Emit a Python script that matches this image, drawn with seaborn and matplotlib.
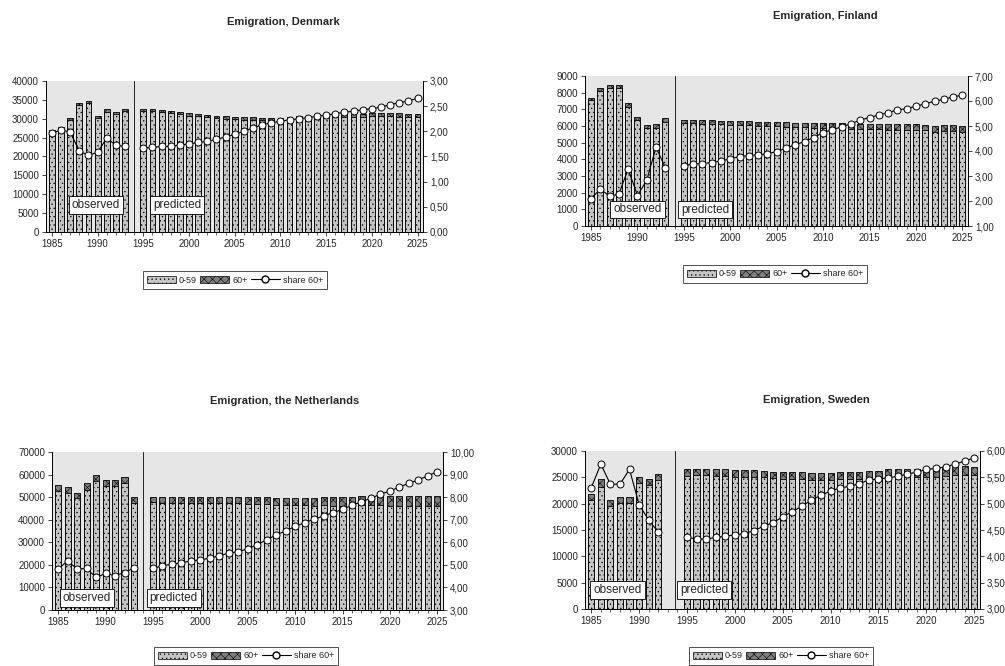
import numpy as np
import pandas as pd
import matplotlib
matplotlib.use("Agg")
import matplotlib.pyplot as plt
import matplotlib.ticker as mticker
from matplotlib.patches import Patch
from matplotlib.lines import Line2D
import seaborn as sns

sns.set_style("white")
plt.rcParams['font.family'] = ['Liberation Sans', 'DejaVu Sans']
plt.rcParams['hatch.linewidth'] = 0.4
plt.rcParams['hatch.color'] = '#333333'

# years
years_obs = list(range(1985, 1994))
years_obs_se = list(range(1985, 1993))
years_pred = list(range(1995, 2026))

# Denmark
dk_total_obs = [27000, 27900, 30300, 34300, 34800, 30800, 32500, 31900, 32500]
dk_share_obs = [1.97, 2.02, 1.99, 1.60, 1.53, 1.58, 1.87, 1.72, 1.70]
dk_total_pred = [32500, 32500, 32300, 32000, 31900, 31400, 31200, 31000, 30700, 30600,
                 30500, 30400, 30400, 30200, 30200, 30300, 30500, 30700, 30800, 31000,
                 31100, 31200, 31200, 31300, 31300, 31400, 31400, 31400, 31400, 31300, 31200]
dk_share_pred = [1.67, 1.68, 1.70, 1.70, 1.73, 1.75, 1.78, 1.80, 1.84, 1.89,
                 1.94, 2.00, 2.07, 2.13, 2.17, 2.20, 2.23, 2.25, 2.27, 2.30,
                 2.32, 2.35, 2.38, 2.40, 2.43, 2.45, 2.48, 2.53, 2.57, 2.60, 2.66]

# Finland
fi_total_obs = [7710, 8300, 8450, 8450, 7370, 6530, 6040, 6120, 6470]
fi_share_obs = [2.09, 2.48, 2.19, 2.28, 3.28, 2.22, 2.83, 4.15, 3.34]
fi_total_pred = [6370, 6390, 6350, 6340, 6330, 6300, 6290, 6280, 6250, 6240,
                 6230, 6220, 6210, 6190, 6180, 6170, 6160, 6160, 6150, 6150,
                 6140, 6130, 6120, 6110, 6100, 6100, 6090, 6020, 6060, 6050, 6000]
fi_share_pred = [3.42, 3.48, 3.50, 3.54, 3.60, 3.69, 3.78, 3.82, 3.85, 3.89,
                 3.98, 4.11, 4.25, 4.38, 4.54, 4.74, 4.85, 4.97, 5.09, 5.24,
                 5.34, 5.44, 5.54, 5.64, 5.70, 5.79, 5.89, 5.99, 6.07, 6.17, 6.23]

# the Netherlands
nl_total_obs = [55200, 54500, 51900, 56100, 59600, 57400, 57400, 58900, 50000]
nl_share_obs = [4.81, 5.18, 4.81, 4.84, 4.44, 4.62, 4.52, 4.66, 4.86]
nl_total_pred = [50100, 50100, 50100, 50100, 50100, 50000, 50000, 50100, 50200, 50100,
                 50000, 50000, 50000, 49700, 49700, 49700, 49800, 49700, 49900, 49900,
                 49900, 50100, 50300, 50300, 50400, 50300, 50300, 50400, 50500, 50500, 50600]
nl_share_pred = [4.84, 4.96, 5.03, 5.09, 5.18, 5.22, 5.30, 5.40, 5.52, 5.59,
                 5.70, 5.89, 6.11, 6.33, 6.50, 6.70, 6.87, 7.02, 7.17, 7.31,
                 7.46, 7.64, 7.80, 7.95, 8.13, 8.27, 8.45, 8.61, 8.77, 8.94, 9.13]

# Sweden
se_total_obs = [21900, 24600, 20700, 21300, 21300, 25100, 24700, 25700]
se_share_obs = [5.30, 5.75, 5.37, 5.37, 5.65, 4.98, 4.69, 4.46]
se_total_pred = [26500, 26500, 26500, 26500, 26500, 26300, 26300, 26300, 26200, 26000,
                 26000, 26000, 26000, 25900, 25900, 25900, 26000, 26000, 26000, 26200,
                 26200, 26500, 26500, 26500, 26500, 26500, 26600, 26800, 27000, 27100, 27000]
se_share_pred = [4.36, 4.33, 4.33, 4.36, 4.38, 4.41, 4.43, 4.49, 4.57, 4.64,
                 4.75, 4.85, 4.95, 5.07, 5.16, 5.24, 5.30, 5.33, 5.38, 5.45,
                 5.47, 5.49, 5.52, 5.56, 5.60, 5.65, 5.67, 5.70, 5.75, 5.81, 5.87]

LIGHT = '#c6c6c6'
DARK = '#7e7e7e'
BG = '#e6e6e6'


def panel(rect, title, title_xy, leg_xy, yo, yp, to, tp, so, sp,
          ymax, ystep, rlim, rstep, divider, obs_x, pred_x, box_y):
    df = pd.DataFrame({
        'year': yo + yp,
        'total': to + tp,
        'share': so + sp,
        'period': ['observed'] * len(yo) + ['predicted'] * len(yp),
    })
    # split the total into the two age groups using the share of 60+
    df['old'] = df['total'] * df['share'] / 100
    df['young'] = df['total'] - df['old']

    ax = fig.add_axes(rect)
    ax.set_facecolor(BG)
    sns.barplot(data=df, x='year', y='total', native_scale=True, width=0.64,
                color=DARK, edgecolor='black', linewidth=0.6, hatch='xxxx',
                errorbar=None, ax=ax)
    sns.barplot(data=df, x='year', y='young', native_scale=True, width=0.64,
                color=LIGHT, edgecolor='black', linewidth=0.6, hatch='....',
                errorbar=None, ax=ax)
    ax.set_ylim(0, ymax)
    ax.set_yticks(np.arange(0, ymax + 1, ystep))
    ax.set_xlim(1984.35, 2025.6)
    ax.xaxis.set_major_locator(mticker.MultipleLocator(5))
    ax.xaxis.set_minor_locator(mticker.MultipleLocator(1))
    ax.tick_params(axis='both', which='major', labelsize=7, length=3, width=0.6,
                   direction='out', left=True, bottom=True, pad=2)
    ax.tick_params(axis='x', which='minor', length=2, width=0.5, bottom=True)
    ax.set_xlabel('')
    ax.set_ylabel('')
    ax.axvline(divider, color='#222222', lw=0.7)
    for s in ['top', 'right']:
        ax.spines[s].set_visible(False)
    for s in ['left', 'bottom']:
        ax.spines[s].set_color('black')
        ax.spines[s].set_linewidth(0.7)

    ax2 = ax.twinx()
    sns.lineplot(data=df, x='year', y='share', units='period', estimator=None,
                 color='black', lw=0.8, marker='o', markersize=5,
                 markerfacecolor='white', markeredgecolor='black',
                 markeredgewidth=0.7, legend=False, ax=ax2)
    ax2.set_ylim(*rlim)
    ax2.set_yticks(np.arange(rlim[0], rlim[1] + 0.001, rstep))
    ax2.yaxis.set_major_formatter(
        mticker.FuncFormatter(lambda v, p: f"{v:.2f}".replace('.', ',')))
    ax2.tick_params(axis='y', labelsize=7, length=3, width=0.6, direction='out',
                    right=True, pad=2)
    ax2.set_xlim(1984.35, 2025.6)
    ax2.set_xlabel('')
    ax2.set_ylabel('')
    for s in ['top', 'left', 'bottom']:
        ax2.spines[s].set_visible(False)
    ax2.spines['right'].set_color('black')
    ax2.spines['right'].set_linewidth(0.7)

    box = dict(boxstyle='square,pad=0.25', facecolor='white', edgecolor='black', lw=0.6)
    ax.text(obs_x, box_y, 'observed', transform=ax.get_xaxis_transform(),
            ha='center', va='center', fontsize=8.5, bbox=box, zorder=5)
    ax.text(pred_x, box_y, 'predicted', transform=ax.get_xaxis_transform(),
            ha='center', va='center', fontsize=8.5, bbox=box, zorder=5)

    fig.text(title_xy[0], title_xy[1], title, ha='center', va='center',
             fontsize=8, fontweight='bold')

    handles = [
        Patch(facecolor=LIGHT, edgecolor='black', hatch='....', lw=0.5, label='0-59'),
        Patch(facecolor=DARK, edgecolor='black', hatch='xxxx', lw=0.5, label='60+'),
        Line2D([0], [0], color='black', lw=0.8, marker='o', markersize=5,
               markerfacecolor='white', markeredgecolor='black', label='share 60+'),
    ]
    leg = fig.legend(handles=handles, loc='center', bbox_to_anchor=leg_xy, ncol=3,
                     fontsize=6.5, frameon=True, fancybox=False, edgecolor='black',
                     handlelength=3.2, handleheight=0.9, handletextpad=0.3,
                     columnspacing=0.4, borderpad=0.5)
    leg.get_frame().set_linewidth(0.6)


fig = plt.figure(figsize=(10.05, 6.66), dpi=100)
W, H = 1005, 666


def rect(l, r, t, b):
    return [l / W, 1 - b / H, (r - l) / W, (b - t) / H]


panel(rect(46, 423, 81, 232), 'Emigration, Denmark', (283 / W, 1 - 22 / H), (235 / W, 1 - 280 / H),
      years_obs, years_pred, dk_total_obs, dk_total_pred, dk_share_obs, dk_share_pred,
      40000, 5000, (0, 3), 0.5, 1994, 1989.8, 1998.7, 0.18)
panel(rect(585, 968, 76, 226), 'Emigration, Finland', (825 / W, 1 - 16 / H), (775 / W, 1 - 274 / H),
      years_obs, years_pred, fi_total_obs, fi_total_pred, fi_share_obs, fi_share_pred,
      9000, 1000, (1, 7), 1.0, 1994, 1990.0, 1997.3, 0.11)
panel(rect(52, 443, 452, 610), 'Emigration, the Netherlands', (285 / W, 1 - 401 / H), (246 / W, 1 - 656 / H),
      years_obs, years_pred, nl_total_obs, nl_total_pred, nl_share_obs, nl_share_pred,
      70000, 10000, (3, 10), 1.0, 1994, 1988.0, 1997.2, 0.075)
panel(rect(585, 980, 451, 609), 'Emigration, Sweden', (816 / W, 1 - 400 / H), (781 / W, 1 - 656 / H),
      years_obs_se, years_pred, se_total_obs, se_total_pred, se_share_obs, se_share_pred,
      30000, 5000, (3, 6), 0.5, 1993.7, 1987.75, 1996.8, 0.12)

fig.savefig('out.png', dpi=100, facecolor='white')
